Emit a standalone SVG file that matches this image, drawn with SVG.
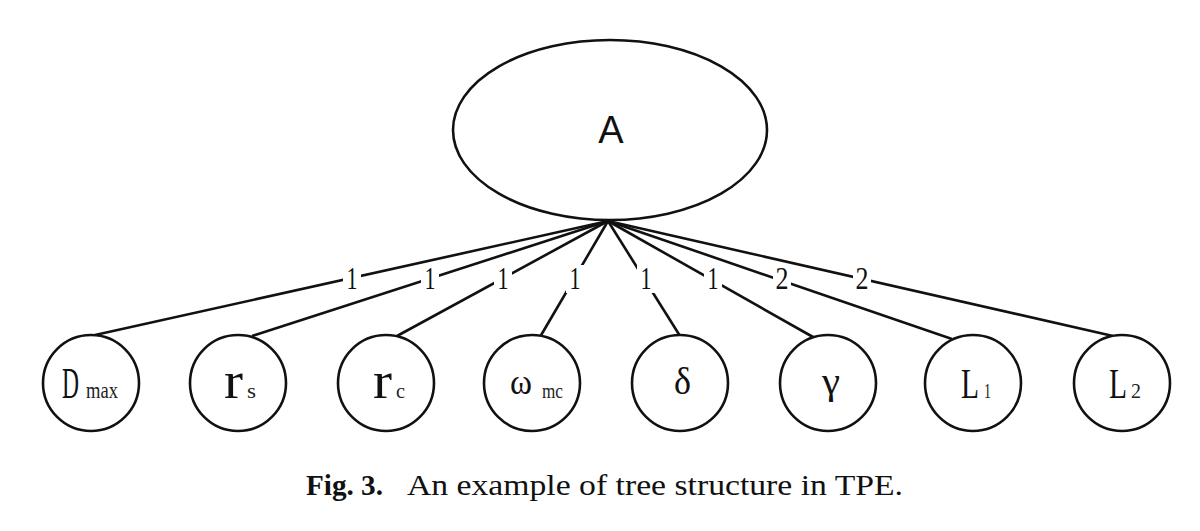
<svg xmlns="http://www.w3.org/2000/svg" width="1200" height="531" viewBox="0 0 1200 531">
<style>
.shape{fill:#fff;stroke:#111;stroke-width:2.6}
.edge{stroke:#111;stroke-width:2.6;fill:none}
.lblbg{fill:#fff;stroke:none}
.elbl{font-family:"Liberation Serif",serif;font-size:32px;fill:#111;text-anchor:middle}
.main{font-family:"Liberation Serif",serif;fill:#111}
.sub{font-family:"Liberation Serif",serif;fill:#222}
.cap{font-family:"Liberation Serif",serif;font-size:30px;fill:#111}
</style>
<rect width="1200" height="531" fill="#fff"/>
<g id="connectors">
<line class="edge" x1="608" y1="221" x2="95" y2="335"/>
<line class="edge" x1="608" y1="221" x2="252" y2="336"/>
<line class="edge" x1="608" y1="221" x2="397" y2="336"/>
<line class="edge" x1="608" y1="221" x2="540" y2="337"/>
<line class="edge" x1="608" y1="221" x2="680" y2="336"/>
<line class="edge" x1="608" y1="221" x2="813" y2="337"/>
<line class="edge" x1="608" y1="221" x2="952" y2="339"/>
<line class="edge" x1="608" y1="221" x2="1113" y2="336"/>
<rect class="lblbg" x="343" y="265" width="18" height="28"/>
<rect class="lblbg" x="421" y="265" width="18" height="28"/>
<rect class="lblbg" x="494" y="265" width="18" height="28"/>
<rect class="lblbg" x="566" y="265" width="18" height="28"/>
<rect class="lblbg" x="637" y="265" width="18" height="28"/>
<rect class="lblbg" x="704" y="265" width="18" height="28"/>
<rect class="lblbg" x="773" y="265" width="18" height="28"/>
<rect class="lblbg" x="853" y="265" width="18" height="28"/>
<text class="elbl" x="352" y="289" textLength="11" lengthAdjust="spacingAndGlyphs">1</text>
<text class="elbl" x="430" y="289" textLength="11" lengthAdjust="spacingAndGlyphs">1</text>
<text class="elbl" x="503" y="289" textLength="11" lengthAdjust="spacingAndGlyphs">1</text>
<text class="elbl" x="575" y="289" textLength="11" lengthAdjust="spacingAndGlyphs">1</text>
<text class="elbl" x="646" y="289" textLength="11" lengthAdjust="spacingAndGlyphs">1</text>
<text class="elbl" x="713" y="289" textLength="11" lengthAdjust="spacingAndGlyphs">1</text>
<text class="elbl" x="782" y="289" textLength="13" lengthAdjust="spacingAndGlyphs">2</text>
<text class="elbl" x="862" y="289" textLength="13" lengthAdjust="spacingAndGlyphs">2</text>
</g>
<g id="node-A">
<ellipse class="shape" cx="610" cy="130" rx="157" ry="90"/>
<text x="611" y="143" font-family="Liberation Sans, sans-serif" font-size="38" fill="#111" text-anchor="middle">A</text>
</g>
<g id="node-Dmax">
<circle class="shape" cx="91" cy="383" r="48"/>
<text class="main" x="62" y="398" font-size="44" textLength="17" lengthAdjust="spacingAndGlyphs">D</text>
<text class="sub" x="86" y="398" font-size="24" textLength="32" lengthAdjust="spacingAndGlyphs">max</text>
</g>
<g id="node-rs">
<circle class="shape" cx="238" cy="383" r="48"/>
<text class="main" transform="translate(224,398) scale(1,1.3)" x="0" y="0" font-size="40" textLength="19" lengthAdjust="spacingAndGlyphs">r</text>
<text class="sub" x="247" y="398" font-size="22" textLength="9" lengthAdjust="spacingAndGlyphs">s</text>
</g>
<g id="node-rc">
<circle class="shape" cx="386" cy="383" r="48"/>
<text class="main" transform="translate(373,398) scale(1,1.3)" x="0" y="0" font-size="40" textLength="19" lengthAdjust="spacingAndGlyphs">r</text>
<text class="sub" x="396" y="398" font-size="22" textLength="9" lengthAdjust="spacingAndGlyphs">c</text>
</g>
<g id="node-omega">
<circle class="shape" cx="532" cy="383" r="48"/>
<text class="main" x="510" y="394" font-size="36" textLength="22" lengthAdjust="spacingAndGlyphs">ω</text>
<text class="sub" x="542" y="398" font-size="22" textLength="21" lengthAdjust="spacingAndGlyphs">mc</text>
</g>
<g id="node-delta">
<circle class="shape" cx="680" cy="383" r="48"/>
<text class="main" x="674" y="394" font-size="38" textLength="17" lengthAdjust="spacingAndGlyphs">δ</text>
</g>
<g id="node-gamma">
<circle class="shape" cx="828" cy="383" r="48"/>
<text class="main" x="822" y="394" font-size="38" textLength="18" lengthAdjust="spacingAndGlyphs">γ</text>
</g>
<g id="node-L1">
<circle class="shape" cx="973" cy="383" r="48"/>
<text class="main" x="961" y="398" font-size="42" textLength="18" lengthAdjust="spacingAndGlyphs">L</text>
<text class="sub" x="984" y="398" font-size="22" textLength="7" lengthAdjust="spacingAndGlyphs">1</text>
</g>
<g id="node-L2">
<circle class="shape" cx="1122" cy="383" r="48"/>
<text class="main" x="1109" y="398" font-size="42" textLength="18" lengthAdjust="spacingAndGlyphs">L</text>
<text class="sub" x="1131" y="398" font-size="22" textLength="10" lengthAdjust="spacingAndGlyphs">2</text>
</g>
<g id="caption">
<text class="cap" x="306" y="495" font-weight="bold" textLength="77" lengthAdjust="spacingAndGlyphs">Fig. 3.</text>
<text class="cap" x="407" y="495" textLength="496" lengthAdjust="spacingAndGlyphs">An example of tree structure in TPE.</text>
</g>
</svg>
